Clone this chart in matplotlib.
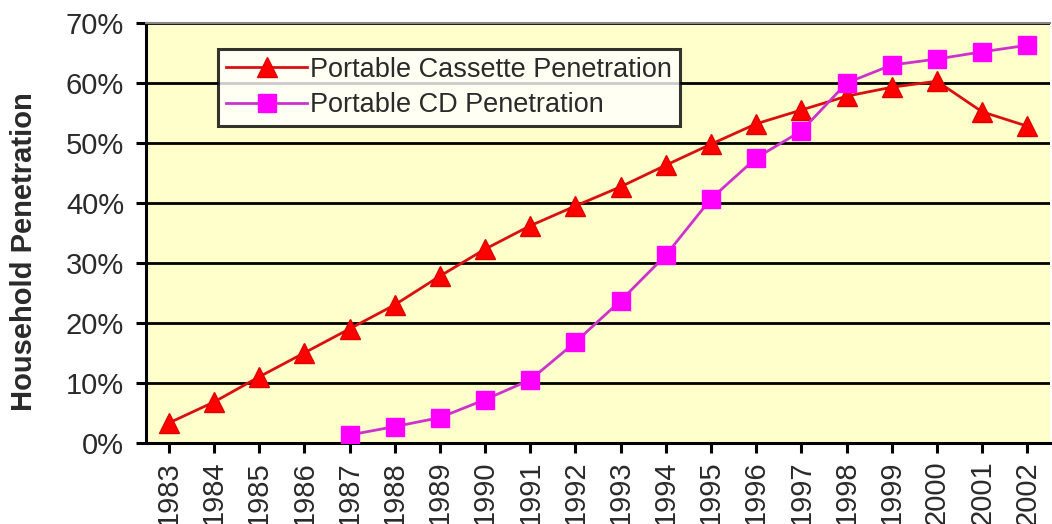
import matplotlib
matplotlib.use("Agg")
import matplotlib.pyplot as plt
from matplotlib.ticker import FuncFormatter

plt.rcParams['font.family'] = ['Liberation Sans', 'DejaVu Sans']

years = [str(y) for y in range(1983, 2003)]
cassette = [3.3, 6.8, 11.0, 15.0, 19.0, 23.0, 27.8, 32.3, 36.2, 39.5,
            42.7, 46.3, 49.8, 53.2, 55.5, 57.8, 59.3, 60.3, 55.2, 52.8]
cd_years = years[4:]
cd = [1.3, 2.7, 4.2, 7.2, 10.5, 16.8, 23.7, 31.3, 40.7, 47.5,
      52.0, 60.0, 63.0, 64.0, 65.2, 66.3]

fig = plt.figure(figsize=(10.52, 5.24), dpi=100)
ax = fig.add_axes([0.139, 0.155, 0.859, 0.801])
ax.set_facecolor('#FFFFCC')

x = list(range(len(years)))
x_cd = [years.index(y) for y in cd_years]

ax.plot(x, cassette, color='#D81010', lw=2, marker='^', ms=15,
        mfc='#FF0000', mec='#E00000', label='Portable Cassette Penetration', zorder=3)
ax.plot(x_cd, cd, color='#CC33CC', lw=2, marker='s', ms=13,
        mfc='#FF00FF', mec='#FF00FF', label='Portable CD Penetration', zorder=3)

ax.set_xlim(-0.5, len(years) - 0.5)
ax.set_ylim(0, 70)
ax.set_yticks(range(0, 71, 10))
ax.yaxis.set_major_formatter(FuncFormatter(lambda v, p: '%d%%' % v))
ax.set_xticks(x)
ax.set_xticklabels(years, rotation=90)
ax.grid(axis='y', color='black', lw=2)
ax.set_axisbelow(True)

for s in ['left', 'bottom']:
    ax.spines[s].set_color('black')
    ax.spines[s].set_linewidth(2.2)
ax.spines['top'].set_color('#888888')
ax.spines['top'].set_linewidth(1.5)
ax.spines['right'].set_visible(False)
ax.tick_params(axis='both', direction='out', length=7, width=2.2, colors='black',
               labelsize=21, labelcolor='#2a2a2a')
ax.tick_params(axis='y', pad=9)
ax.tick_params(axis='x', pad=6)

ax.set_ylabel('Household Penetration', fontsize=21, fontweight='bold',
              color='#2a2a2a')
ax.yaxis.set_label_coords(-0.12, 0.455)

leg = ax.legend(loc='upper left', bbox_to_anchor=(0.207, 0.907),
                bbox_transform=fig.transFigure, frameon=True, fancybox=False,
                fontsize=19.5, handlelength=3.0, handletextpad=0.1,
                borderpad=0.3, labelspacing=0.35, borderaxespad=0)
leg.get_frame().set_edgecolor('black')
leg.get_frame().set_linewidth(2.2)
leg.get_frame().set_facecolor('white')
for t in leg.get_texts():
    t.set_color('#2a2a2a')

fig.savefig('out.png', dpi=100)
